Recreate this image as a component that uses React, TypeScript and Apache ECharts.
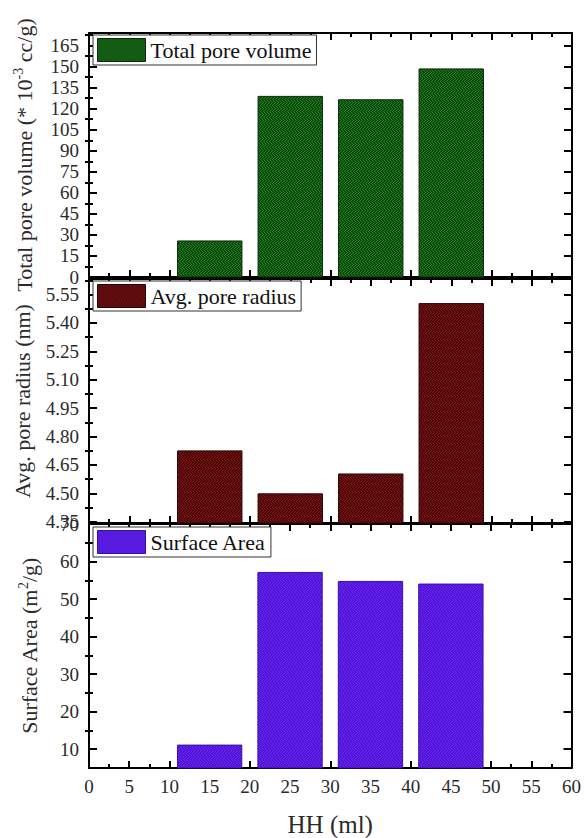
import React, { useEffect, useRef } from 'react';
import * as echarts from 'echarts';

// ---------- data ----------
const hhValues = [15, 25, 35, 45];
const totalPoreVolume = [25.7, 128.8, 126.4, 148.4];
const avgPoreRadius = [4.724, 4.497, 4.602, 5.502];
const surfaceArea = [11.1, 57.1, 54.7, 54.0];

const xTickValues = [0, 5, 10, 15, 20, 25, 30, 35, 40, 45, 50, 55, 60];
const volumeLabels = [0, 15, 30, 45, 60, 75, 90, 105, 120, 135, 150, 165];
const volumeMinor = [7.5, 22.5, 37.5, 52.5, 67.5, 82.5, 97.5, 112.5, 127.5, 142.5, 157.5, 172.5];
const radiusLabels = [4.35, 4.5, 4.65, 4.8, 4.95, 5.1, 5.25, 5.4, 5.55];
const radiusMinor = [4.425, 4.575, 4.725, 4.875, 5.025, 5.175, 5.325, 5.475, 5.625];
const areaLabels = [10, 20, 30, 40, 50, 60, 70];
const areaMinor = [15, 25, 35, 45, 55, 65];

const seriesNames = ['Total pore volume', 'Avg. pore radius', 'Surface Area'];
const axisNames = [
  '{a|Total pore volume (* 10}{s|-3}{a| cc/g)}',
  '{a|Avg. pore radius (nm)}',
  '{a|Surface Area (m}{s|2}{a|/g)}',
];

// ---------- style ----------
const FONT = "'Liberation Serif', 'Times New Roman', 'DejaVu Serif', serif";
const BAR_SPAN = 8; // bar width in HH units
const GRIDS = [
  { top: 33, height: 244 },
  { top: 279, height: 244 },
  { top: 524, height: 244 },
];
const RANGES: [number, number][] = [
  [0, 174],
  [4.343, 5.632],
  [5, 70],
];
const NAME_GAPS = [52, 54, 47];
const LEGEND_TOPS = [35, 281, 527];
const COLORS = [
  { base: '#1f8a1f', line: '#0c440c', dense: true, border: '#0a2a0a' },
  { base: '#8c1616', line: '#480707', dense: true, border: '#2a0404' },
  { base: '#5210da', line: '#6630ea', dense: false, border: '#3a10a0' },
];

function makeWeave(base: string, line: string, dense: boolean): HTMLCanvasElement {
  const c = document.createElement('canvas');
  c.width = 6;
  c.height = 6;
  const ctx = c.getContext('2d')!;
  ctx.fillStyle = base;
  ctx.fillRect(0, 0, 6, 6);
  ctx.fillStyle = line;
  for (let j = 0; j < 6; j++) {
    for (let i = 0; i < 6; i++) {
      const d = j < 3 ? (i + j) % 3 : (i - j + 6) % 3;
      if (dense ? d < 2 : d === 0) ctx.fillRect(i, j, 1, 1);
    }
  }
  return c;
}

export default function App() {
  const ref = useRef<HTMLDivElement>(null);

  useEffect(() => {
    document.body.style.margin = '0';
    const chart = echarts.init(ref.current!, null, { renderer: 'svg' });

    const patterns = COLORS.map((c) => ({ image: makeWeave(c.base, c.line, c.dense), repeat: 'repeat' }));
    const valueSets = [totalPoreVolume, avgPoreRadius, surfaceArea];
    const labelSets = [volumeLabels, radiusLabels, areaLabels];
    const minorSets = [volumeMinor, radiusMinor, areaMinor];
    const fmts = [
      (v: number) => String(Math.round(v)),
      (v: number) => v.toFixed(2),
      (v: number) => String(Math.round(v)),
    ];

    const lineStyle = { color: '#000', width: 2 };
    const tickLine = { color: '#000', width: 2 };
    const labelStyle = { fontFamily: FONT, fontSize: 19, color: '#2a2a2a' };

    const grid = GRIDS.map((g) => ({ left: 89, right: 12, top: g.top, height: g.height }));

    const xAxis: any[] = [];
    const yAxis: any[] = [];
    const series: any[] = [];
    const legend: any[] = [];

    GRIDS.forEach((_, g) => {
      ['bottom', 'top'].forEach((pos) => {
        const isMain = pos === 'bottom';
        xAxis.push({
          gridIndex: g,
          type: 'value',
          position: pos,
          min: 0,
          max: 60,
          interval: 5,
          axisLine: { show: true, onZero: false, lineStyle },
          axisTick: { show: true, inside: true, length: 7, lineStyle: tickLine },
          minorTick: { show: true, splitNumber: 2, length: 4, lineStyle: tickLine },
          splitLine: { show: false },
          axisLabel: {
            show: isMain && g === 2,
            margin: 9,
            ...labelStyle,
            customValues: xTickValues,
          },
          name: isMain && g === 2 ? 'HH (ml)' : '',
          nameLocation: 'middle',
          nameGap: 44,
          nameTextStyle: { fontFamily: FONT, fontSize: 25, color: '#2a2a2a' },
        });
      });

      const [min, max] = RANGES[g];
      ['left', 'right'].forEach((pos) => {
        const isLeft = pos === 'left';
        yAxis.push({
          gridIndex: g,
          type: 'value',
          position: pos,
          min,
          max,
          axisLine: { show: true, onZero: false, lineStyle },
          axisTick: { show: true, inside: true, length: 8, lineStyle: tickLine, customValues: labelSets[g] },
          splitLine: { show: false },
          axisLabel: {
            show: isLeft,
            margin: 10,
            ...labelStyle,
            customValues: labelSets[g],
            formatter: fmts[g],
          },
          name: isLeft ? axisNames[g] : '',
          nameLocation: 'middle',
          nameRotate: 90,
          nameGap: NAME_GAPS[g],
          nameTextStyle: {
            fontFamily: FONT,
            fontSize: 22,
            color: '#2a2a2a',
            rich: {
              a: { fontFamily: FONT, fontSize: 22, color: '#2a2a2a', lineHeight: 26 },
              s: { fontFamily: FONT, fontSize: 14, color: '#2a2a2a', verticalAlign: 'top' },
            },
          },
        });
        yAxis.push({
          gridIndex: g,
          type: 'value',
          position: pos,
          min,
          max,
          axisLine: { show: false },
          axisTick: { show: true, inside: true, length: 4, lineStyle: tickLine, customValues: minorSets[g] },
          splitLine: { show: false },
          axisLabel: { show: false },
        });
      });

      const base = min;
      series.push({
        type: 'custom',
        name: seriesNames[g],
        xAxisIndex: g * 2,
        yAxisIndex: g * 4,
        clip: false,
        encode: { x: 0, y: 1 },
        itemStyle: { color: patterns[g], borderColor: COLORS[g].border, borderWidth: 1 },
        data: hhValues.map((h, i) => [h, valueSets[g][i]]),
        renderItem: (params: any, api: any) => {
          const x = api.value(0);
          const y = api.value(1);
          const tl = api.coord([x - BAR_SPAN / 2, y]);
          const br = api.coord([x + BAR_SPAN / 2, base]);
          return {
            type: 'rect',
            shape: { x: tl[0], y: tl[1], width: br[0] - tl[0], height: br[1] - tl[1] },
            style: {
              fill: patterns[g] as any,
              stroke: COLORS[g].border,
              lineWidth: 1,
            },
          };
        },
      });

      legend.push({
        data: [
          {
            name: seriesNames[g],
            icon: 'rect',
            itemStyle: { color: patterns[g], borderColor: COLORS[g].border, borderWidth: 1 },
          },
        ],
        left: 93,
        top: LEGEND_TOPS[g],
        itemWidth: 48,
        itemHeight: 23,
        padding: [3, 5, 3, 4],
        borderColor: '#333',
        borderWidth: 1,
        backgroundColor: '#fff',
        selectedMode: false,
        textStyle: { fontFamily: FONT, fontSize: 22, color: '#111' },
      });
    });

    chart.setOption({
      animation: false,
      backgroundColor: '#fff',
      grid,
      xAxis,
      yAxis,
      series,
      legend,
    });

    return () => chart.dispose();
  }, []);

  return <div ref={ref} style={{ width: 584, height: 838 }} />;
}
